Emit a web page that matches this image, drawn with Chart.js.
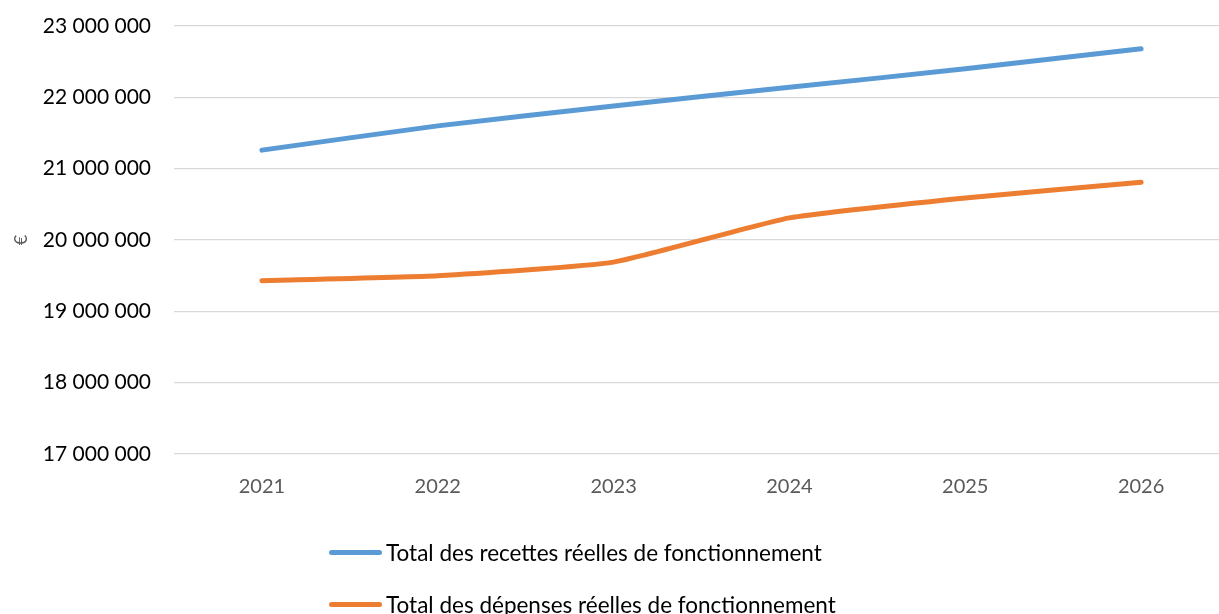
<!DOCTYPE html>
<html>
<head>
<meta charset="utf-8">
<script src="https://cdn.jsdelivr.net/npm/chart.js@4"></script>
<style>
  html, body { margin: 0; padding: 0; background: #fff; overflow: hidden; }
  #wrap { position: relative; width: 1230px; height: 614px; }
  #legend { position: absolute; left: 329px; top: 537px; font-family: Lato, sans-serif; font-size: 22.5px; color: #000; }
  .item { display: flex; align-items: center; height: 30px; margin-bottom: 22px; }
  .swatch { width: 53px; height: 5px; border-radius: 3px; margin-right: 4px; }
</style>
</head>
<body>
<div id="wrap">
  <canvas id="chart" width="1230" height="614"></canvas>
  <div id="legend"></div>
</div>
<script>
// Years on the category axis
const years = ["2021", "2022", "2023", "2024", "2025", "2026"];

// Series values (euros)
const recettes = [21260000, 21600000, 21880000, 22140000, 22400000, 22680000];
const depenses = [19430000, 19500000, 19690000, 20310000, 20590000, 20810000];

const seriesLabels = [
    "Total des recettes réelles de fonctionnement",
    "Total des dépenses réelles de fonctionnement"
];
const seriesColors = ["#5B9BD5", "#ED7D31"];

const fmtNum = v => String(Math.round(v)).replace(/\B(?=(\d{3})+(?!\d))/g, " ");

const ctx = document.getElementById("chart").getContext("2d");
const chart = new Chart(ctx, {
    type: "line",
    data: {
        labels: years,
        datasets: [recettes, depenses].map((d, i) => ({
            label: seriesLabels[i],
            data: d,
            borderColor: seriesColors[i],
            borderWidth: 5,
            borderCapStyle: "round",
            borderJoinStyle: "round",
            pointRadius: 0,
            tension: 0.15,
            fill: false
        }))
    },
    options: {
        responsive: false,
        animation: false,
        layout: { padding: { top: 26, right: 1, bottom: 102, left: 10 } },
        plugins: { legend: { display: false }, tooltip: { enabled: false } },
        scales: {
            x: {
                offset: true,
                grid: { display: false },
                border: { display: false },
                ticks: { color: "#595959", font: { family: "Lato", size: 20 }, padding: 13 }
            },
            y: {
                min: 17000000,
                max: 23000000,
                // invisible tick marks give the gap between labels and the grid
                grid: { color: "#d9d9d9", lineWidth: 1.3, drawTicks: true, tickLength: 23, tickColor: "rgba(0,0,0,0)" },
                border: { display: false },
                title: { display: true, text: "€", color: "#595959", font: { family: "Lato", size: 18 }, padding: 0 },
                ticks: {
                    stepSize: 1000000,
                    color: "#000",
                    padding: 0,
                    font: { family: "Lato", size: 21 },
                    callback: v => fmtNum(v)
                },
                afterFit: s => { s.width = 164; }
            }
        }
    }
});

// Legend stacked vertically, built from the datasets
const legendEl = document.getElementById("legend");
chart.data.datasets.forEach(ds => {
    const row = document.createElement("div");
    row.className = "item";
    row.innerHTML = `<span class="swatch" style="background:${ds.borderColor}"></span><span>${ds.label}</span>`;
    legendEl.appendChild(row);
});
</script>
</body>
</html>
